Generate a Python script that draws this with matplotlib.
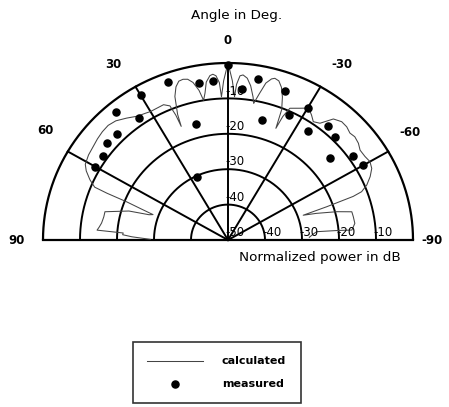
import numpy as np
import matplotlib
matplotlib.use("Agg")
import matplotlib.pyplot as plt

# ---------------- data ----------------
meas_angle = [60, 55, 50, 45, 40, 35, 30, 25, 20, 15, 10, 5, 0,
              -5, -10, -15, -20, -25, -30, -35, -40, -45, -50, -55, -60]
meas_db = [-8.5, -8.8, -7.2, -7.7, -2.9, -8.0, -2.8, -30.3, -2.6, -16.2, -4.9, -5.0, -0.5,
           -7.3, -3.8, -14.9, -5.1, -11.0, -6.8, -12.3, -7.9, -9.0, -14.0, -8.7, -7.9]

calc_angle = [89.5, 88, 87, 86, 85.5, 84, 82, 79, 76.5, 73, 71.5, 70.5, 69.5, 68.5, 68,
              67.5, 65.5, 63, 61, 57.5, 54, 51, 48, 45, 42, 38.5, 35, 32, 30, 27.5,
              24.5, 22.5, 21.8, 21.5, 21, 19.5, 18, 16.5, 15, 13.5, 12, 10.5, 9.5, 8.5,
              7.5, 6, 5, 4, 3, 2.5, 1.5, 0,
              -1.5, -2.5, -3, -4, -5, -6.5, -8, -9.5, -10.2, -11.5, -13, -14.5, -15.5,
              -17, -18.5, -20, -21.5, -22.3, -23, -24.2, -27.6, -29.5, -30.5, -31.5,
              -32.6, -34.6, -37, -39.8, -42.6, -45.1, -47.5, -49.6, -52.2, -54.6, -57.5,
              -60, -62.5, -65, -67.5, -69.3, -70, -70.6, -71, -72.5, -74.8, -76.6, -79,
              -82.2, -85.2, -84.8, -84.4, -86, -88]
calc_db = [-29, -24, -21.5, -21.6, -14.5, -15, -15.5, -15.8, -15.8, -22, -27.5, -28.5, -25, -20.5, -14.7,
           -11, -9, -7, -5.9, -5.3, -5, -4.6, -4.3, -4.2, -4.7, -6, -7.3, -7.8, -8.1, -8.1,
           -8, -9, -12, -15.5, -12, -7, -4.5, -3.2, -3, -3.3, -4.5, -7, -10, -8,
           -5, -3.3, -3, -3.5, -5.5, -9.5, -5, 0,
           -5, -9.5, -6, -3.5, -3.2, -4, -6, -9, -10.8, -8, -4.5, -3, -2.6,
           -3, -4.5, -7, -10.4, -15.9, -12.1, -9.2, -8, -7.2, -6.8, -7.5,
           -8.1, -9.4, -8.7, -5.5, -4.6, -4.7, -5.3, -5.0, -5.4, -6.2, -6.1,
           -5.7, -6.2, -7.6, -9.4, -11.4, -14, -21.7, -28.5, -25, -19.5, -15.6, -15.5,
           -15.4, -16.4, -20.5, -25.9, -27, -28]

ring_db = [-40, -30, -20, -10, 0]
spoke_angle = [60, 30, 0, -30, -60]
angle_ticks = [90, 60, 30, 0, -30, -60, -90]
angle_labels = ["90", "60", "30", "0", "-30", "-60", "-90"]
db_labels_axis = [-10, -20, -30, -40, -50]
db_labels_base = [-40, -30, -20, -10]
db_min, db_max = -50, 0

# ---------------- layout ----------------
W, H = 449, 407
CX, CY, RX, RY = 228, 240, 185, 177
FONT = "DejaVu Sans"


def radius(db):
    return (np.asarray(db, float) - db_min) / (db_max - db_min)


def to_xy(ang, db):
    r = radius(db)
    t = np.deg2rad(np.asarray(ang, float))
    return -r * np.sin(t), r * np.cos(t)


def px(x, y):
    return ((x - CX) / RX, (CY - y) / RY)


fig = plt.figure(figsize=(W / 100, H / 100), dpi=100)
ax = fig.add_axes([0, 0, 1, 1])
ax.set_xlim(-CX / RX, (W - CX) / RX)
ax.set_ylim(-(H - CY) / RY, CY / RY)
ax.axis("off")

# grid rings
th = np.linspace(-90, 90, 721)
for db in ring_db:
    x, y = to_xy(th, np.full_like(th, db))
    ax.plot(x, y, color="black", lw=1.6 if db == 0 else 1.4, solid_capstyle="butt", zorder=1)

# spokes
for a in spoke_angle:
    x, y = to_xy([a, a], [db_min, db_max])
    ax.plot(x, y, color="black", lw=1.4, zorder=1)
# baseline (+-90)
x1, y1 = to_xy([90, -90], [db_max, db_max])
ax.plot(x1, y1, color="black", lw=1.6, zorder=1)

# calculated pattern
cx_, cy_ = to_xy(calc_angle, calc_db)
line, = ax.plot(cx_, cy_, color="#444444", lw=0.75, zorder=2, label="calculated")

# measured
mx, my = to_xy(meas_angle, meas_db)
sc = ax.scatter(mx, my, s=26, color="black", zorder=3, label="measured")

# angle labels
lab_pos = {"90": (17, 240), "60": (45, 130), "30": (113, 64), "0": (228, 41),
           "-30": (342, 64), "-60": (410, 132), "-90": (432, 241)}
for a, lab in zip(angle_ticks, angle_labels):
    ax.text(*px(*lab_pos[lab]), lab, ha="center", va="center", fontsize=8.5,
            fontweight="bold", family=FONT)

# dB labels along vertical spoke
for db in db_labels_axis:
    x, y = to_xy(0, db)
    ax.text(x - 0.012, y + 0.004, str(db), ha="left", va="bottom", fontsize=8.5,
            family=FONT)
# dB labels along baseline
for db in db_labels_base:
    x, y = to_xy(-90, db)
    ax.text(x - 0.012, y + 0.004, str(db), ha="left", va="bottom", fontsize=8.5,
            family=FONT)

ax.text(*px(237, 15), "Angle in Deg.", ha="center", va="center", fontsize=9.7, family=FONT)
ax.text(*px(320, 258), "Normalized power in dB", ha="center", va="center", fontsize=9.7,
        family=FONT)

leg = ax.legend(handles=[line, sc], loc="upper left",
                bbox_to_anchor=(133 / W, 1 - 342 / H), bbox_transform=fig.transFigure,
                borderaxespad=0, frameon=True, fancybox=False, edgecolor="black",
                handlelength=5.0, handletextpad=1.7, labelspacing=1.1, borderpad=1.3,
                scatterpoints=1, prop={"family": FONT, "weight": "bold", "size": 8})
leg.get_frame().set_linewidth(1.2)

fig.savefig("out.png", dpi=100)
